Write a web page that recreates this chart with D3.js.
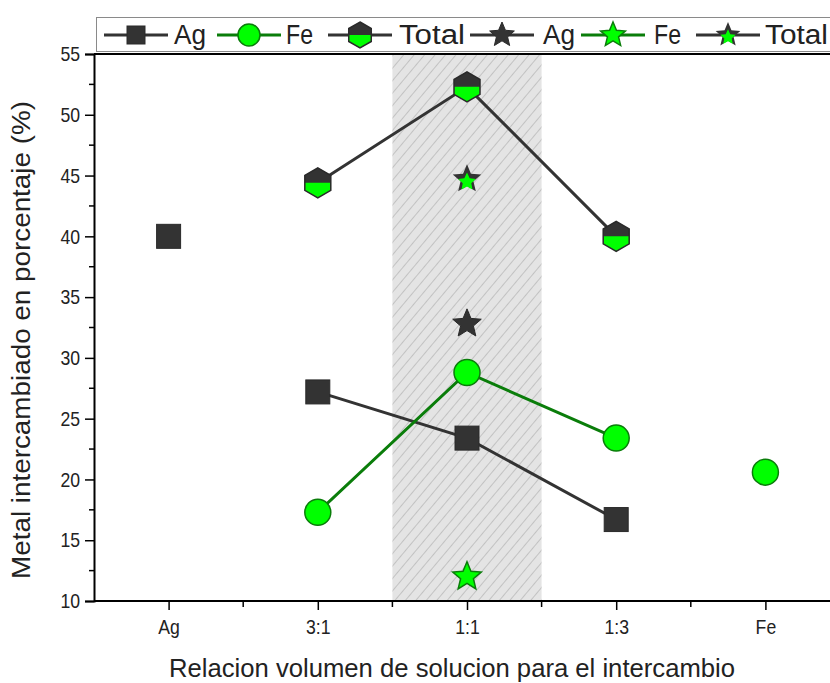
<!DOCTYPE html>
<html>
<head>
<meta charset="utf-8">
<script src="https://cdn.jsdelivr.net/npm/d3@7"></script>
<style>
  body { margin: 0; background: #fff; }
  svg { display: block; font-family: "Liberation Sans", Arial, sans-serif; }
</style>
</head>
<body>
<div id="chart"></div>
<script>
// data
const categories = ['Ag', '3:1', '1:1', '1:3', 'Fe'];
const agValues = [40.0, 27.2, 23.4, 16.7, null];
const feValues = [null, 17.3, 28.8, 23.4, 20.6];
const totalValues = [null, 44.4, 52.3, 40.0, null];
// series joined by lines (the mixtures only)
const mixIndex = [1, 2, 3];
// star series measured at 1:1
const starCategory = '1:1';
const starAg = 32.8;
const starFe = 12.0;
const starTotal = 44.7;
const shadedCategory = '1:1';
const yTicks = [10, 15, 20, 25, 30, 35, 40, 45, 50, 55];

const width = 830, height = 683;
const margin = { left: 94, right: -10, top: 54, bottom: 82 };

const dark = '#333333', green = '#00ff00', greenLine = '#0a7d0a';

const svg = d3.select('#chart')
  .append('svg')
  .attr('width', width)
  .attr('height', height);

const x = d3.scaleLinear()
  .domain([0.5, categories.length + 0.5])
  .range([margin.left, width - margin.right]);

const y = d3.scaleLinear()
  .domain([10, 55])
  .range([height - margin.bottom, margin.top]);

// hatch pattern for the shaded 1:1 band
const defs = svg.append('defs');
const pat = defs.append('pattern')
  .attr('id', 'hatch')
  .attr('patternUnits', 'userSpaceOnUse')
  .attr('width', 8).attr('height', 8)
  .attr('patternTransform', 'rotate(40)');
pat.append('rect').attr('width', 8).attr('height', 8).attr('fill', '#e4e4e4');
pat.append('line')
  .attr('x1', 0).attr('y1', 0).attr('x2', 0).attr('y2', 8)
  .attr('stroke', '#b0b0b0').attr('stroke-width', 1.3);

defs.append('clipPath').attr('id', 'lowerHalf')
  .append('rect').attr('x', -30).attr('y', 0).attr('width', 60).attr('height', 30);

const si = categories.indexOf(shadedCategory) + 1;
svg.append('rect')
  .attr('x', x(si - 0.5))
  .attr('y', y(55))
  .attr('width', x(si + 0.5) - x(si - 0.5))
  .attr('height', y(10) - y(55))
  .attr('fill', 'url(#hatch)');

// axes
const yAxis = d3.axisLeft(y).tickValues(yTicks).tickSize(9).tickPadding(5);
const gy = svg.append('g')
  .attr('transform', `translate(${margin.left},0)`)
  .call(yAxis);
gy.append('g').selectAll('line')
  .data(d3.range(12.5, 55, 5))
  .enter().append('line')
  .attr('x1', -5).attr('x2', 0)
  .attr('y1', d => y(d)).attr('y2', d => y(d))
  .attr('stroke', '#000').attr('stroke-width', 1.5);

const xAxis = d3.axisBottom(x)
  .tickValues(d3.range(1, categories.length + 1))
  .tickFormat(d => categories[d - 1])
  .tickSize(9).tickPadding(9);
const gx = svg.append('g')
  .attr('transform', `translate(0,${y(10)})`)
  .call(xAxis);
gx.append('g').selectAll('line')
  .data(d3.range(1.5, categories.length + 0.6, 1))
  .enter().append('line')
  .attr('x1', d => x(d)).attr('x2', d => x(d))
  .attr('y1', 0).attr('y2', 6)
  .attr('stroke', '#000').attr('stroke-width', 1.5);

[gx, gy].forEach(g => {
  g.attr('font-size', 21).attr('font-family', '"Liberation Sans", Arial, sans-serif');
  g.select('.domain').attr('stroke-width', 2);
  g.selectAll('.tick line').attr('stroke-width', 1.5);
  // the reference font is narrower than Arial
  g.selectAll('.tick text').attr('fill', '#222')
    .attr('textLength', function () { return this.getComputedTextLength() * 0.84; })
    .attr('lengthAdjust', 'spacingAndGlyphs');
});
gx.select('.domain').attr('d', `M${margin.left},0H${width + 20}`);

// top frame line
svg.append('line')
  .attr('x1', margin.left).attr('x2', width + 20)
  .attr('y1', y(55)).attr('y2', y(55))
  .attr('stroke', '#000').attr('stroke-width', 2);

// axis titles
svg.append('text')
  .attr('x', 452).attr('y', 677)
  .attr('text-anchor', 'middle')
  .attr('font-size', 25)
  .attr('fill', '#222')
  .attr('textLength', 566).attr('lengthAdjust', 'spacingAndGlyphs')
  .text('Relacion volumen de solucion para el intercambio');

svg.append('text')
  .attr('transform', `translate(30,340) rotate(-90)`)
  .attr('text-anchor', 'middle')
  .attr('font-size', 25)
  .attr('fill', '#222')
  .attr('textLength', 478).attr('lengthAdjust', 'spacingAndGlyphs')
  .text('Metal intercambiado en porcentaje (%)');

// marker drawing helpers
const hexPath = r => {
  const pts = d3.range(6).map(i => {
    const a = Math.PI / 3 * i - Math.PI / 2;
    return [r * Math.cos(a), r * Math.sin(a)];
  });
  return 'M' + pts.join('L') + 'Z';
};
const starPath = (ro, ri) => {
  const pts = d3.range(10).map(i => {
    const r = i % 2 ? ri : ro;
    const a = Math.PI / 5 * i - Math.PI / 2;
    return [r * Math.cos(a), r * Math.sin(a)];
  });
  return 'M' + pts.join('L') + 'Z';
};

function square(g, s) {
  g.append('rect').attr('x', -s / 2).attr('y', -s / 2).attr('width', s).attr('height', s)
    .attr('fill', dark).attr('stroke', '#2a2a2a').attr('stroke-width', 1);
}
function circle(g, r) {
  g.append('circle').attr('r', r)
    .attr('fill', green).attr('stroke', greenLine).attr('stroke-width', 1.5);
}
function halfShape(g, d) {
  g.append('path').attr('d', d).attr('fill', dark);
  g.append('path').attr('d', d).attr('fill', green).attr('clip-path', 'url(#lowerHalf)');
  g.append('path').attr('d', d).attr('fill', 'none').attr('stroke', '#2a2a2a').attr('stroke-width', 1.5);
}
function starDark(g, ro) {
  g.append('path').attr('d', starPath(ro, ro * 0.45))
    .attr('fill', dark).attr('stroke', '#2a2a2a').attr('stroke-width', 1);
}
function starGreen(g, ro) {
  g.append('path').attr('d', starPath(ro, ro * 0.45))
    .attr('fill', green).attr('stroke', greenLine).attr('stroke-width', 1.5);
}
function starTot(g, ro) {
  g.append('path').attr('d', starPath(ro, ro * 0.45)).attr('fill', dark);
  g.append('path').attr('d', starPath(ro * 0.62, ro * 0.3))
    .attr('transform', `translate(0,${ro * 0.18})`)
    .attr('fill', green);
}

// lines joining the mixtures
const line = d3.line().x(d => x(d[0] + 1)).y(d => y(d[1]));
const seriesLine = (vals, color) => svg.append('path')
  .datum(mixIndex.map(i => [i, vals[i]]))
  .attr('d', line)
  .attr('fill', 'none')
  .attr('stroke', color)
  .attr('stroke-width', 3);

seriesLine(totalValues, dark);
seriesLine(agValues, dark);
seriesLine(feValues, greenLine);

const place = (i, v) => svg.append('g').attr('transform', `translate(${x(i + 1)},${y(v)})`);

totalValues.forEach((v, i) => { if (v != null) halfShape(place(i, v), hexPath(15)); });
agValues.forEach((v, i) => { if (v != null) square(place(i, v), 24); });
feValues.forEach((v, i) => { if (v != null) circle(place(i, v), 13); });

const sx = categories.indexOf(starCategory);
starTot(place(sx, starTotal), 15);
starDark(place(sx, starAg), 15);
starGreen(place(sx, starFe), 15);

// legend
const legend = svg.append('g');
legend.append('rect')
  .attr('x', 96.5).attr('y', 17.5)
  .attr('width', 760).attr('height', 34)
  .attr('fill', '#fff').attr('stroke', '#8a8a8a').attr('stroke-width', 1);

const legendItems = [
  { label: 'Ag', x0: 104, tx: 174, len: 32, color: dark, draw: g => square(g, 18) },
  { label: 'Fe', x0: 217, tx: 286, len: 27, color: greenLine, draw: g => circle(g, 11) },
  { label: 'Total', x0: 328, tx: 399, len: 66, color: dark, draw: g => halfShape(g, hexPath(13)) },
  { label: 'Ag', x0: 470, tx: 543, len: 32, color: dark, draw: g => starDark(g, 13) },
  { label: 'Fe', x0: 581, tx: 654, len: 27, color: greenLine, draw: g => starGreen(g, 13) },
  { label: 'Total', x0: 696, tx: 765, len: 63, color: dark, draw: g => starTot(g, 13) }
];

legendItems.forEach(it => {
  const ly = 35;
  legend.append('line')
    .attr('x1', it.x0).attr('x2', it.x0 + 64)
    .attr('y1', ly).attr('y2', ly)
    .attr('stroke', it.color).attr('stroke-width', 3);
  it.draw(legend.append('g').attr('transform', `translate(${it.x0 + 32},${ly})`));
  legend.append('text')
    .attr('x', it.tx).attr('y', ly + 9)
    .attr('font-size', 27)
    .attr('fill', '#222')
    .attr('textLength', it.len).attr('lengthAdjust', 'spacingAndGlyphs')
    .text(it.label);
});
</script>
</body>
</html>
